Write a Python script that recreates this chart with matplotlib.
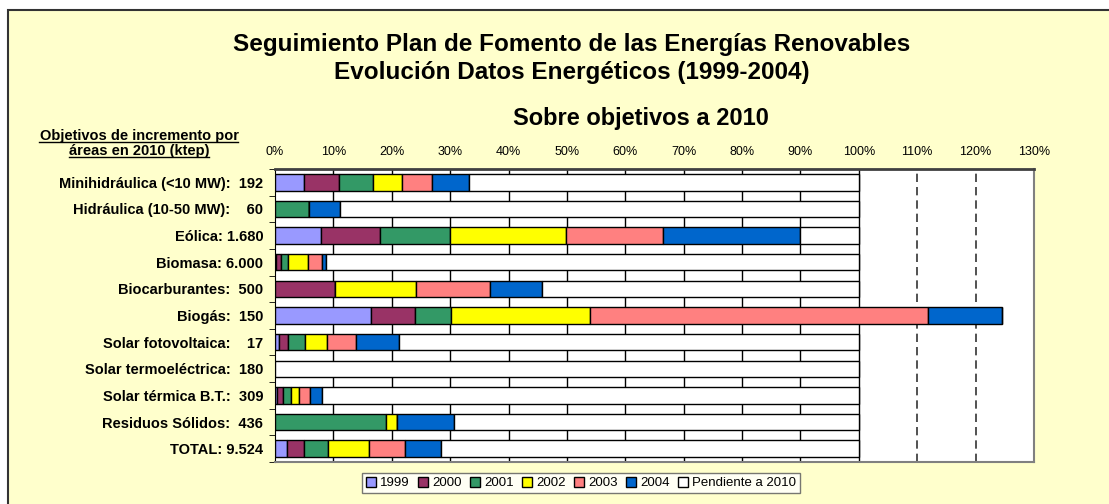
import matplotlib.pyplot as plt
import matplotlib.patches as mpatches
import numpy as np

plt.rcParams['font.family'] = ['Liberation Sans', 'DejaVu Sans']

categories = ['Minihidráulica (<10 MW):  192', 'Hidráulica (10-50 MW):    60', 'Eólica: 1.680',
              'Biomasa: 6.000', 'Biocarburantes:  500', 'Biogás:  150',
              'Solar fotovoltaica:    17', 'Solar termoeléctrica:  180', 'Solar térmica B.T.:  309',
              'Residuos Sólidos:  436', 'TOTAL: 9.524']

# % del objetivo 2010 alcanzado cada año
v1999 = [5.0, 0.0, 7.8, 0.2, 0.0, 16.5, 0.6, 0.0, 0.4, 0.0, 2.0]
v2000 = [5.9, 0.0, 10.1, 0.9, 10.2, 7.5, 1.7, 0.0, 1.0, 0.0, 3.0]
v2001 = [5.8, 5.9, 12.1, 1.1, 0.0, 6.1, 2.9, 0.0, 1.3, 19.0, 4.0]
v2002 = [5.0, 0.0, 19.8, 3.5, 14.0, 23.9, 3.7, 0.0, 1.4, 1.9, 7.1]
v2003 = [5.2, 0.0, 16.7, 2.3, 12.6, 57.9, 4.9, 0.0, 1.9, 0.0, 6.2]
v2004 = [6.3, 5.3, 23.5, 0.8, 8.9, 12.6, 7.4, 0.0, 2.0, 9.8, 6.1]

series = [v1999, v2000, v2001, v2002, v2003, v2004]
labels = ['1999', '2000', '2001', '2002', '2003', '2004', 'Pendiente a 2010']
colors = ['#9999FF', '#993366', '#339966', '#FFFF00', '#FF8080', '#0066CC', '#FFFFFF']

done = np.sum(series, axis=0)
pendiente = np.clip(100 - done, 0, None)
series = series + [pendiente]

fig = plt.figure(figsize=(11.09, 5.04), dpi=100)
fig.patch.set_facecolor('white')
bg = mpatches.Rectangle((8 / 1109, -0.1), 1.2, 1.1 - 10 / 504, transform=fig.transFigure,
                        facecolor='#FFFFCC', edgecolor='#333333', lw=1.5, zorder=-10)
fig.patches.append(bg)

ax = fig.add_axes([275 / 1109, 1 - 462 / 504, (1034 - 275) / 1109, (462 - 169) / 504])
ax.set_facecolor('white')

y = np.arange(len(categories))
left = np.zeros(len(categories))
for vals, lab, col in zip(series, labels, colors):
    ax.barh(y, vals, left=left, height=0.62, color=col, edgecolor='black', lw=1, label=lab, zorder=3)
    left = left + np.array(vals)

ax.set_xlim(0, 130)
ax.set_ylim(len(categories) - 0.5, -0.5)
ax.set_xticks(np.arange(0, 131, 10))
ax.set_xticklabels([f'{t}%' for t in range(0, 131, 10)], fontsize=9)
ax.xaxis.tick_top()
ax.tick_params(axis='x', length=0, pad=8)
for t in range(10, 101, 10):
    ax.axvline(t, color='black', lw=1, zorder=1)
for t in (110, 120):
    ax.axvline(t, color='#333333', lw=1.2, ls=(0, (5, 3)), zorder=1)

ax.set_yticks(y)
ax.set_yticklabels(categories, fontsize=10.5, fontweight='bold')
ax.set_yticks(np.arange(-0.5, len(categories)), minor=True)
ax.tick_params(axis='y', which='major', length=0, pad=8.5)
ax.tick_params(axis='y', which='minor', length=4, direction='out', color='black')

ax.spines['top'].set_color('#404040')
ax.spines['top'].set_linewidth(2)
ax.spines['left'].set_color('black')
ax.spines['right'].set_color('#808080')
ax.spines['right'].set_linewidth(1.5)
ax.spines['bottom'].set_color('#808080')
ax.spines['bottom'].set_linewidth(1.5)

fig.text(572 / 1109, 1 - 45 / 504, 'Seguimiento Plan de Fomento de las Energías Renovables',
         ha='center', va='center', fontsize=17.5, fontweight='bold')
fig.text(572 / 1109, 1 - 73 / 504, 'Evolución Datos Energéticos (1999-2004)',
         ha='center', va='center', fontsize=17.5, fontweight='bold')
fig.text(641 / 1109, 1 - 119 / 504, 'Sobre objetivos a 2010',
         ha='center', va='center', fontsize=17, fontweight='bold')
h1 = fig.text(139 / 1109, 1 - 136 / 504, 'Objetivos de incremento por',
              ha='center', va='center', fontsize=10.5, fontweight='bold')
h2 = fig.text(139 / 1109, 1 - 151 / 504, 'áreas en 2010 (ktep)',
              ha='center', va='center', fontsize=10.5, fontweight='bold')

leg = fig.legend(loc='center', bbox_to_anchor=(581 / 1109, 1 - 483 / 504), ncol=7, fontsize=9.5,
                 frameon=True, fancybox=False, handlelength=0.8, handleheight=0.8,
                 handletextpad=0.3, columnspacing=0.6, borderpad=0.3)
leg.get_frame().set_edgecolor('#555555')
leg.get_frame().set_linewidth(1)

# subrayado del encabezado
fig.canvas.draw()
r = fig.canvas.get_renderer()
for h in (h1, h2):
    bb = h.get_window_extent(r).transformed(fig.transFigure.inverted())
    fig.add_artist(plt.Line2D([bb.x0, bb.x1], [bb.y0 + 1 / 504] * 2, color='black', lw=1))

fig.savefig('out.png', dpi=100)
